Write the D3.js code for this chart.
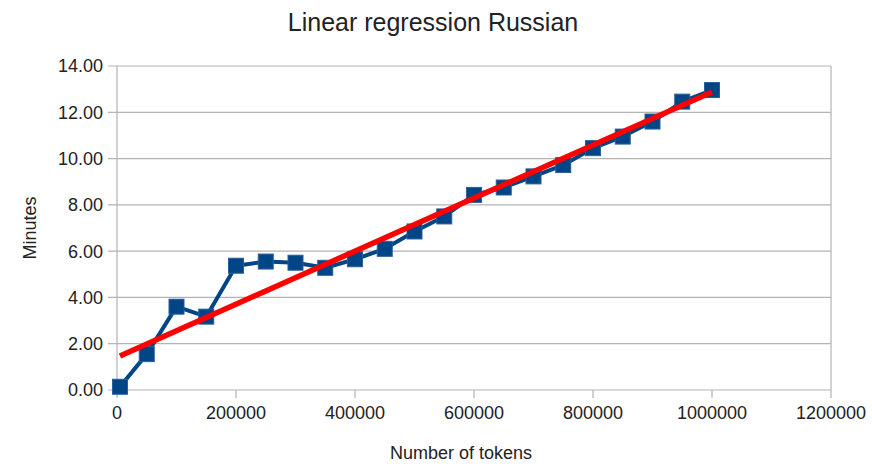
<!DOCTYPE html>
<html><head><meta charset="utf-8">
<script src="https://cdn.jsdelivr.net/npm/d3@7"></script>
<style>body{margin:0;background:#fff;} text{font-family:"Liberation Sans",Arial,sans-serif;}</style>
</head><body>
<svg id="c" width="872" height="466"></svg>
<script>
const title = "Linear regression Russian";
const xTitle = "Number of tokens";
const yTitle = "Minutes";
const tokens = [5000,50000,100000,150000,200000,250000,300000,350000,400000,450000,500000,550000,600000,650000,700000,750000,800000,850000,900000,950000,1000000];
const minutes = [0.14,1.55,3.6,3.17,5.37,5.55,5.5,5.28,5.65,6.1,6.85,7.5,8.43,8.75,9.23,9.72,10.45,10.95,11.6,12.46,12.96];
// regression trend line endpoints
const trendTokens = [5000,1000000];
const trendMinutes = [1.47,12.88];
const xTicks = [0,200000,400000,600000,800000,1000000,1200000];
const yTicks = [0,2,4,6,8,10,12,14];

const svg = d3.select("#c");
const L=117,R=831,T=66,B=390;
const x = d3.scaleLinear().domain([0,1200000]).range([L,R]);
const y = d3.scaleLinear().domain([0,14]).range([B,T]);
const grid="#b3b3b3";

svg.append("g").selectAll("line").data(yTicks).join("line")
  .attr("x1",L-9).attr("x2",R).attr("y1",d=>y(d)).attr("y2",d=>y(d))
  .attr("stroke",grid).attr("stroke-width",1.2);
svg.append("line").attr("x1",L).attr("x2",L).attr("y1",T).attr("y2",B).attr("stroke",grid).attr("stroke-width",1.2);
svg.append("line").attr("x1",R).attr("x2",R).attr("y1",T).attr("y2",B).attr("stroke",grid).attr("stroke-width",1.2);
svg.append("g").selectAll("line").data(xTicks).join("line")
  .attr("x1",d=>x(d)).attr("x2",d=>x(d)).attr("y1",B).attr("y2",B+8)
  .attr("stroke",grid).attr("stroke-width",1.2);

svg.append("g").selectAll("text").data(yTicks).join("text")
  .attr("x",L-14).attr("y",d=>y(d)).attr("dy","0.36em").attr("text-anchor","end")
  .attr("font-size",18).attr("fill","#222").text(d=>d3.format(".2f")(d));
svg.append("g").selectAll("text").data(xTicks).join("text")
  .attr("x",d=>x(d)).attr("y",B+29).attr("text-anchor","middle")
  .attr("font-size",18).attr("fill","#222").text(d=>d3.format("d")(d));

svg.append("text").attr("x",433).attr("y",31).attr("text-anchor","middle").attr("font-size",25).attr("fill","#222").text(title);
svg.append("text").attr("x",461).attr("y",459).attr("text-anchor","middle").attr("font-size",18).attr("fill","#222").text(xTitle);
svg.append("text").attr("transform","translate(36,228) rotate(-90)").attr("text-anchor","middle").attr("font-size",18).attr("fill","#222").text(yTitle);

const pts = tokens.map((t,i)=>[t,minutes[i]]);
svg.append("path").datum(pts).attr("fill","none").attr("stroke","#004586").attr("stroke-width",4)
  .attr("stroke-linejoin","round").attr("d",d3.line().x(d=>x(d[0])).y(d=>y(d[1])));
svg.append("g").selectAll("rect").data(pts).join("rect")
  .attr("x",d=>x(d[0])-7.5).attr("y",d=>y(d[1])-7.5).attr("width",15).attr("height",15)
  .attr("fill","#004586").attr("stroke","#2a5f9a").attr("stroke-width",1);

const trend = trendTokens.map((t,i)=>[t,trendMinutes[i]]);
svg.append("path").datum(trend).attr("fill","none").attr("stroke","#ff0000").attr("stroke-width",5.5)
  .attr("d",d3.line().x(d=>x(d[0])).y(d=>y(d[1])));
</script>
</body></html>
